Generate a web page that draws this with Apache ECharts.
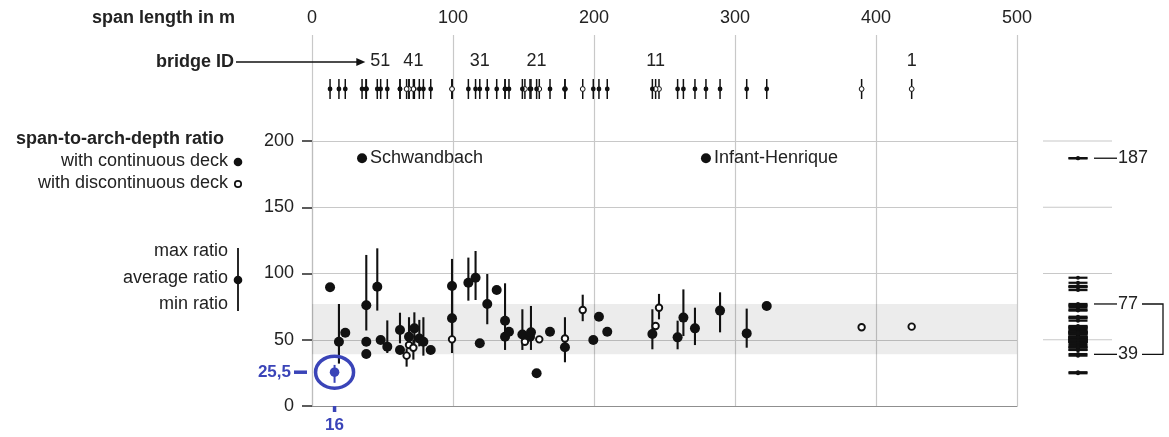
<!DOCTYPE html>
<html>
<head>
<meta charset="utf-8">
<title>Span-to-arch-depth ratio of arch bridges</title>
<script src="https://cdn.jsdelivr.net/npm/echarts/dist/echarts.min.js"></script>
<style>
  html, body { margin: 0; padding: 0; background: #fff; }
  #chart { width: 1169px; height: 437px; }
</style>
</head>
<body>
<div id="chart"></div>
<script>
// ---- bridge data (span in m, ratio values), sorted by span ----
const spanM    = [12.8, 19.1, 23.6, 38.5, 38.5, 38.5, 46.3, 48.7, 53.4, 62.4, 62.4, 67.1, 68.8, 68.8, 71.9, 72.6, 76.1, 79, 84.2,
                  99.3, 99.3, 99.3, 110.9, 116, 119, 124.3, 131, 136.9, 136.9, 139.7, 149.2, 151, 154.6, 155.3, 159.3, 161.2, 168.8,
                  179.4, 179.4, 192, 199.5, 203.5, 209.4, 241.4, 243.7, 246.1, 259.3, 263.4, 271.6, 289.4, 308.3, 322.5, 389.8, 425.3];
const avgRatio = [89.6, 48.5, 55.3, 76, 48.5, 39.2, 90, 49.8, 44.8, 57.4, 42.3, 38, 52.3, 46, 44, 58.6, 51, 48.5, 42.3,
                  90.6, 66.2, 50.3, 93, 96.8, 47.3, 77, 87.5, 64.4, 52.3, 56, 54, 48.5, 52.3, 55.6, 24.7, 50.3, 56.1,
                  51, 44.3, 72.5, 49.8, 67.4, 56.1, 54.3, 60.4, 74.2, 51.8, 66.7, 58.6, 72, 54.8, 75.5, 59.4, 59.9];
const minRatio = [null, 32, null, 57, null, null, 72, null, 40, 47.3, null, 29.7, 44, null, 35, 47, 45, 38, null,
                  40, null, null, 79.5, 80, null, 61.7, null, 42.3, null, null, 42.3, null, null, 42.3, null, null, null,
                  33, null, 64, null, null, null, 42.8, null, 65.4, 42.8, 52.8, 46, 55.6, 44, null, null, null];
const maxRatio = [null, 77, null, 114, null, null, 119, null, 64.6, 70.4, null, 43.5, 67, null, 50, 70.7, 65, 67, null,
                  111, null, null, 112, 117, null, 99.6, null, 92.6, null, null, 73, null, null, 75.5, null, null, null,
                  67, null, 84, null, null, null, 73, null, 84.6, 64.4, 88, 74.2, 85.8, 73.5, null, null, null];
// 'c' = continuous deck, 'd' = discontinuous deck
const deckType = ['c','c','c','c','c','c','c','c','c','c','c','d','c','d','d','c','c','c','c',
                  'c','c','d','c','c','c','c','c','c','c','c','c','d','c','c','c','d','c',
                  'd','c','d','c','c','c','c','d','d','c','c','c','c','c','c','d','d'];

// named outliers
const namedSpan  = [35.5, 279.4];
const namedRatio = [187, 187];
const namedLabel = ['Schwandbach', 'Infant-Henrique'];

// highlighted design point: span, average, min, max
const highlightPoint = [16, 25.5, 17.5, 31];

// usual ratio range (shaded band)
const bandLimits = [39, 77];

// axes
const spanTicks  = [0, 100, 200, 300, 400, 500];
const ratioTicks = [0, 50, 100, 150, 200];
const idMarks    = [1, 11, 21, 31, 41, 51];

// ---- derived tables ----
const rows = spanM.map((s, i) => ({
  span: s, avg: avgRatio[i], min: minRatio[i], max: maxRatio[i], deck: deckType[i]
}));
namedSpan.forEach((s, i) => rows.push({ span: s, avg: namedRatio[i], min: null, max: null, deck: 'c', name: namedLabel[i] }));
// bridge IDs count from the longest span
const byId = rows.slice().sort((a, b) => b.span - a.span);

const FONT = '"Liberation Sans", Arial, Helvetica, sans-serif';
const FS = 18;
const TEXT = '#222';
const GRID = '#c8c8c8';
const BLUE = '#3a44b8';

function txt(text, x, y, align, size, weight, color) {
  return {
    type: 'text', silent: true,
    style: {
      text, x, y, fill: color || TEXT,
      font: (weight || 'normal') + ' ' + size + 'px ' + FONT,
      align, textAlign: align, verticalAlign: 'middle', textVerticalAlign: 'middle'
    }
  };
}

const chart = echarts.init(document.getElementById('chart'), null, { renderer: 'canvas' });

const option = {
  animation: false,
  backgroundColor: '#fff',
  textStyle: { fontFamily: FONT },
  grid: [
    { left: 312, width: 705, top: 35, bottom: 31 },   // span axis and vertical rules
    { left: 312, width: 705, top: 79, height: 20 },   // bridge ID strip
    { left: 312, width: 705, top: 141, bottom: 31 },  // ratio vs span
    { left: 1043, right: 0, top: 141, bottom: 31 }    // ratio distribution
  ],
  xAxis: [
    { gridIndex: 0, type: 'value', min: spanTicks[0], max: spanTicks[spanTicks.length - 1], interval: 100,
      position: 'top', axisLine: { show: false }, axisTick: { show: false },
      axisLabel: { margin: 8, fontSize: FS, color: TEXT, fontFamily: FONT },
      splitLine: { show: true, lineStyle: { color: GRID, width: 1.2 } } },
    { gridIndex: 1, type: 'value', min: 0, max: 500, show: false },
    { gridIndex: 2, type: 'value', min: 0, max: 500,
      axisLine: { show: true, onZero: false, lineStyle: { color: '#8f8f8f', width: 1.2 } },
      axisTick: { show: false }, axisLabel: { show: false }, splitLine: { show: false } },
    { gridIndex: 3, type: 'value', min: 0, max: 126, show: false }
  ],
  yAxis: [
    { gridIndex: 0, type: 'value', min: 0, max: 1, show: false },
    { gridIndex: 1, type: 'value', min: 0, max: 1, show: false },
    { gridIndex: 2, type: 'value', min: ratioTicks[0], max: ratioTicks[ratioTicks.length - 1], interval: 50,
      axisLine: { show: true, lineStyle: { color: '#bdbdbd', width: 1.2 } },
      axisTick: { show: true, length: 10, lineStyle: { color: '#333', width: 1.6 } },
      axisLabel: { margin: 18, fontSize: FS, color: TEXT, fontFamily: FONT },
      splitLine: { show: true, lineStyle: { color: GRID, width: 1.2 } } },
    { gridIndex: 3, type: 'value', min: 0, max: 200, show: false }
  ],
  graphic: [
    txt('span length in m', 235, 18, 'right', FS, 'bold'),
    txt('bridge ID', 234, 62, 'right', FS, 'bold'),
    txt('span-to-arch-depth ratio', 224, 139, 'right', FS, 'bold'),
    txt('with continuous deck', 228, 161, 'right', FS),
    txt('with discontinuous deck', 228, 183, 'right', FS),
    { type: 'circle', silent: true, shape: { cx: 238, cy: 162, r: 4.3 }, style: { fill: '#111' } },
    { type: 'circle', silent: true, shape: { cx: 238, cy: 184, r: 3.2 }, style: { fill: '#fff', stroke: '#111', lineWidth: 1.7 } },
    txt('max ratio', 228, 251, 'right', FS),
    txt('average ratio', 228, 278, 'right', FS),
    txt('min ratio', 228, 304, 'right', FS),
    { type: 'line', silent: true, shape: { x1: 238, y1: 248, x2: 238, y2: 311 }, style: { stroke: '#111', lineWidth: 1.8 } },
    { type: 'circle', silent: true, shape: { cx: 238, cy: 280, r: 4.3 }, style: { fill: '#111' } }
  ],
  series: [
    // bridge ID strip: one tick per bridge
    {
      type: 'custom', xAxisIndex: 1, yAxisIndex: 1, silent: true,
      data: byId.map(b => [b.span, b.deck === 'd' ? 1 : 0]),
      renderItem(params, api) {
        const x = api.coord([api.value(0), 0])[0];
        const top = api.coord([0, 1])[1], bot = api.coord([0, 0])[1];
        const open = api.value(1) === 1;
        return { type: 'group', children: [
          { type: 'line', shape: { x1: x, y1: top, x2: x, y2: bot }, style: { stroke: '#111', lineWidth: 1.5 } },
          { type: 'circle', shape: { cx: x, cy: (top + bot) / 2, r: 2.4 },
            style: { fill: open ? '#fff' : '#111', stroke: '#111', lineWidth: open ? 1 : 0 } }
        ] };
      }
    },
    // bridge ID labels
    {
      type: 'custom', xAxisIndex: 1, yAxisIndex: 1, silent: true,
      data: idMarks.map(id => [byId[id - 1].span, id]),
      renderItem(params, api) {
        const id = api.value(1);
        const x = api.coord([api.value(0), 0])[0];
        const y = api.coord([0, 1])[1] - 18;
        if (id === Math.max(...idMarks)) {
          const tip = x - 1;
          return { type: 'group', children: [
            { type: 'line', shape: { x1: 236, y1: y + 1, x2: tip - 6, y2: y + 1 }, style: { stroke: '#111', lineWidth: 1.4 } },
            { type: 'polygon', shape: { points: [[tip, y + 1], [tip - 9, y - 3], [tip - 9, y + 5]] }, style: { fill: '#111' } },
            txt(String(id), x + 4, y, 'left', FS)
          ] };
        }
        return txt(String(id), x, y, 'center', FS);
      }
    },
    // min-max bars
    {
      type: 'custom', xAxisIndex: 2, yAxisIndex: 2, silent: true, z: 3,
      data: rows.filter(r => r.min != null).map(r => [r.span, r.min, r.max]),
      renderItem(params, api) {
        const a = api.coord([api.value(0), api.value(1)]);
        const b = api.coord([api.value(0), api.value(2)]);
        return { type: 'line', shape: { x1: a[0], y1: a[1], x2: b[0], y2: b[1] }, style: { stroke: '#111', lineWidth: 2.1 } };
      }
    },
    // continuous deck
    {
      type: 'scatter', xAxisIndex: 2, yAxisIndex: 2, z: 4, silent: true,
      symbol: 'circle', symbolSize: 10, itemStyle: { color: '#111', opacity: 1 },
      data: rows.filter(r => r.deck === 'c' && !r.name).map(r => [r.span, r.avg]),
      markArea: {
        silent: true,
        itemStyle: { color: 'rgba(0,0,0,0.075)' },
        data: [[{ yAxis: bandLimits[0] }, { yAxis: bandLimits[1] }]]
      }
    },
    // discontinuous deck
    {
      type: 'scatter', xAxisIndex: 2, yAxisIndex: 2, z: 4, silent: true,
      symbol: 'circle', symbolSize: 6.5, itemStyle: { color: '#fff', borderColor: '#111', borderWidth: 1.9, opacity: 1 },
      data: rows.filter(r => r.deck === 'd').map(r => [r.span, r.avg])
    },
    // named outliers
    {
      type: 'scatter', xAxisIndex: 2, yAxisIndex: 2, z: 4, silent: true,
      symbol: 'circle', symbolSize: 10, itemStyle: { color: '#111', opacity: 1 },
      data: rows.filter(r => r.name).map(r => ({ value: [r.span, r.avg], name: r.name })),
      label: { show: true, position: 'right', distance: 3, formatter: '{b}', fontSize: FS, color: TEXT, fontFamily: FONT }
    },
    // highlighted design point with its axis call-outs
    {
      type: 'custom', xAxisIndex: 2, yAxisIndex: 2, silent: true, z: 5,
      data: [highlightPoint],
      renderItem(params, api) {
        const s = api.value(0), r = api.value(1);
        const p = api.coord([s, r]);
        const lo = api.coord([s, api.value(2)]), hi = api.coord([s, api.value(3)]);
        const o = api.coord([0, 0]);
        return { type: 'group', children: [
          { type: 'line', shape: { x1: lo[0], y1: lo[1], x2: hi[0], y2: hi[1] }, style: { stroke: BLUE, lineWidth: 2 } },
          { type: 'circle', shape: { cx: p[0], cy: p[1], r: 4.8 }, style: { fill: BLUE } },
          { type: 'ellipse', shape: { cx: p[0], cy: p[1], rx: 19, ry: 16 }, style: { fill: null, stroke: BLUE, lineWidth: 3.5 } },
          { type: 'line', shape: { x1: o[0] - 18, y1: p[1], x2: o[0] - 5, y2: p[1] }, style: { stroke: BLUE, lineWidth: 3.5 } },
          txt(String(r).replace('.', ','), o[0] - 21, p[1], 'right', 17, 'bold', BLUE),
          { type: 'line', shape: { x1: p[0], y1: o[1], x2: p[0], y2: o[1] + 6 }, style: { stroke: BLUE, lineWidth: 3.5 } },
          txt(String(s), p[0], o[1] + 19, 'center', 17, 'bold', BLUE)
        ] };
      }
    },
    // distribution panel: rules
    {
      type: 'custom', xAxisIndex: 3, yAxisIndex: 3, silent: true,
      data: ratioTicks.filter(v => v > 0).map(v => [v]),
      renderItem(params, api) {
        const a = api.coord([0, api.value(0)]), b = api.coord([69, api.value(0)]);
        return { type: 'line', shape: { x1: a[0], y1: a[1], x2: b[0], y2: b[1] }, style: { stroke: GRID, lineWidth: 1.2 } };
      }
    },
    // distribution panel: one dash per average ratio
    {
      type: 'custom', xAxisIndex: 3, yAxisIndex: 3, silent: true, z: 3,
      data: rows.map(r => [r.avg]).concat([[highlightPoint[1]]]),
      renderItem(params, api) {
        const c = api.coord([35, api.value(0)]);
        const l = api.coord([25.5, 0])[0], rr = api.coord([44.5, 0])[0];
        return { type: 'group', children: [
          { type: 'line', shape: { x1: l, y1: c[1], x2: rr, y2: c[1] }, style: { stroke: '#111', lineWidth: 2.2 } },
          { type: 'circle', shape: { cx: c[0], cy: c[1], r: 2 }, style: { fill: '#111' } }
        ] };
      }
    },
    // distribution panel: value call-outs
    {
      type: 'custom', xAxisIndex: 3, yAxisIndex: 3, silent: true,
      data: [[Math.max(...namedRatio)], [bandLimits[1]], [bandLimits[0]]],
      renderItem(params, api) {
        const v = api.value(0);
        const a = api.coord([51, v]), b = api.coord([74, v]);
        return { type: 'group', children: [
          { type: 'line', shape: { x1: a[0], y1: a[1], x2: b[0], y2: b[1] }, style: { stroke: '#111', lineWidth: 1.3 } },
          txt(String(v), b[0] + 1, a[1], 'left', FS)
        ] };
      }
    },
    // bracket spanning the band
    {
      type: 'custom', xAxisIndex: 3, yAxisIndex: 3, silent: true,
      data: [[bandLimits[0], bandLimits[1]]],
      renderItem(params, api) {
        const lo = api.coord([99, api.value(0)]), hi = api.coord([99, api.value(1)]);
        const xr = api.coord([120, 0])[0];
        return { type: 'polyline', shape: { points: [[hi[0], hi[1]], [xr, hi[1]], [xr, lo[1]], [lo[0], lo[1]]] },
                 style: { stroke: '#111', lineWidth: 1.3, fill: null } };
      }
    }
  ]
};

chart.setOption(option);
</script>
</body>
</html>
